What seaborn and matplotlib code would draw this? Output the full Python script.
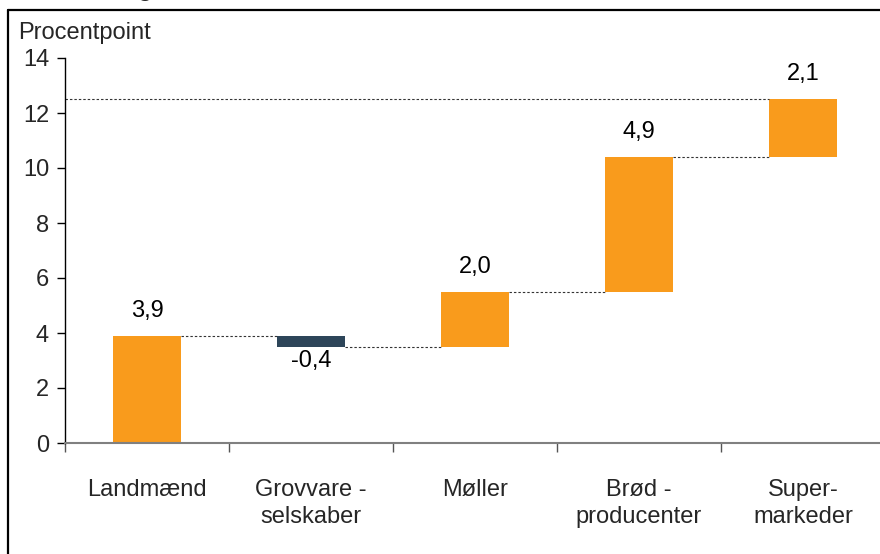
import matplotlib
matplotlib.use("Agg")
import matplotlib.pyplot as plt
from matplotlib.lines import Line2D
import seaborn as sns
import pandas as pd
import numpy as np

categories = ["Landmænd", "Grovvare -\nselskaber", "Møller", "Brød -\nproducenter", "Super-\nmarkeder"]
changes = [3.9, -0.4, 2.0, 4.9, 2.1]
value_labels = ["3,9", "-0,4", "2,0", "4,9", "2,1"]
yticks = [0, 2, 4, 6, 8, 10, 12, 14]
y_label = "Procentpoint"

ORANGE = "#F99B1C"
DARK = "#2D4559"

sns.set_theme(style="white")
plt.rcParams["font.family"] = ["Liberation Sans", "DejaVu Sans"]
FS = 17

starts = np.concatenate([[0], np.cumsum(changes)[:-1]])
ends = starts + np.array(changes)
df = pd.DataFrame({"cat": categories, "size": np.abs(changes)})
palette = {c: (ORANGE if v >= 0 else DARK) for c, v in zip(categories, changes)}

fig = plt.figure(figsize=(8.8, 5.54), dpi=100)
ax = fig.add_axes([65 / 880, (554 - 443) / 554, 820 / 880, 385 / 554])

W = 0.41
sns.barplot(data=df, x="cat", y="size", hue="cat", palette=palette, order=categories,
            hue_order=categories, width=W, legend=False, ax=ax, saturation=1, dodge=False)

for i, p in enumerate(ax.patches[:len(categories)]):
    lo = min(starts[i], ends[i])
    p.set_y(lo)
    p.set_height(abs(changes[i]))
    p.set_edgecolor("none")

# connectors
dash = (0, (2.2, 1.8))
for i in range(len(categories) - 1):
    ax.hlines(ends[i], i + W / 2, i + 1 - W / 2, colors="#333333", linestyles=dash, lw=0.8)
ax.hlines(ends[-1], -0.5, len(categories) - 1 - W / 2, colors="#333333", linestyles=dash, lw=0.8)

# value labels
for i, (v, lab) in enumerate(zip(changes, value_labels)):
    if v >= 0:
        ax.annotate(lab, (i, ends[i]), xytext=(0, 10), textcoords="offset points",
                    ha="center", va="bottom", fontsize=FS, color="black")
    else:
        ax.annotate(lab, (i, ends[i]), xytext=(0, -2), textcoords="offset points",
                    ha="center", va="top", fontsize=FS, color="black")

ax.set_xlim(-0.5, len(categories) - 0.5)
ax.set_ylim(0, 14)
ax.set_yticks(yticks)
ax.set_yticklabels([str(t) for t in yticks], fontsize=FS)
ax.set_xticks(range(len(categories)))
ax.set_xticklabels(categories, fontsize=FS, linespacing=1.3)
ax.set_xticks(np.arange(-0.5, len(categories)), minor=True)
ax.tick_params(axis="x", which="major", length=0, pad=26)
ax.tick_params(axis="x", which="minor", length=6.5, width=1, color="#555555", direction="out", bottom=True)
ax.tick_params(axis="y", which="major", length=5.5, width=1, color="black", direction="out", left=True, pad=6)
ax.set_xlabel("")
ax.set_ylabel("")
for s in ["top", "right"]:
    ax.spines[s].set_visible(False)
ax.spines["left"].set_color("black")
ax.spines["left"].set_linewidth(1)
ax.spines["bottom"].set_color("#808080")
ax.spines["bottom"].set_linewidth(1.5)

fig.text(18 / 880, 1 - 33 / 554, y_label, fontsize=FS, ha="left", va="center")
# cropped title remnant
fig.text(145 / 880, 1 + 4 / 554, "g", fontsize=17, fontweight="bold", ha="center", va="baseline")

# outer frame (cropped)
fig.add_artist(Line2D([8 / 880, 8 / 880], [0, 1 - 10 / 554], color="black", lw=1.6, transform=fig.transFigure))
fig.add_artist(Line2D([8 / 880, 1], [1 - 10 / 554, 1 - 10 / 554], color="black", lw=1.6, transform=fig.transFigure))

fig.savefig("out.png", dpi=100)
